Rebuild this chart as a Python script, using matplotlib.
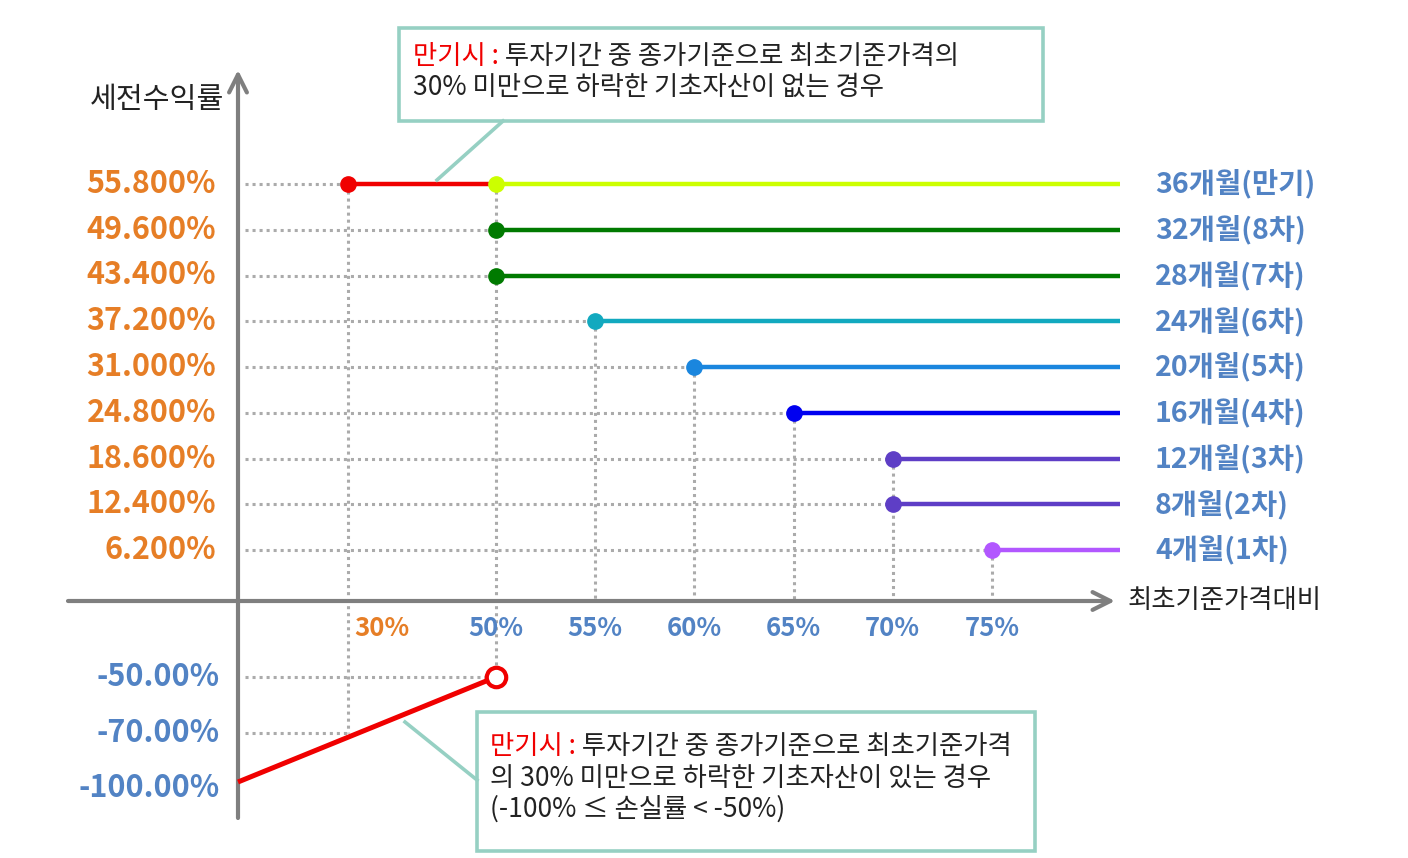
import numpy as np
import matplotlib
matplotlib.use("Agg")
import matplotlib.pyplot as plt
from matplotlib.patches import Rectangle
from matplotlib.lines import Line2D

plt.rcParams["font.family"] = ["Noto Sans CJK KR", "DejaVu Sans"]

W, H = 1408, 858

# ---- podaci ----
levels = [55.8, 49.6, 43.4, 37.2, 31.0, 24.8, 18.6, 12.4, 6.2]
level_labels = ["55.800%", "49.600%", "43.400%", "37.200%", "31.000%",
                "24.800%", "18.600%", "12.400%", "6.200%"]
barriers = [50, 50, 50, 55, 60, 65, 70, 70, 75]
periods = ["36개월(만기)", "32개월(8차)", "28개월(7차)", "24개월(6차)", "20개월(5차)",
           "16개월(4차)", "12개월(3차)", "8개월(2차)", "4개월(1차)"]
line_colors = ["#CCFF00", "#007A00", "#007A00", "#12A9BF", "#1A86DE",
               "#0000F0", "#5E3EC6", "#5E3EC6", "#B257FF"]
knock_in = 30
loss_x = [0, 50]
loss_y = [-100, -50]
loss_ticks = [-50, -70, -100]
loss_labels = ["-50.00%", "-70.00%", "-100.00%"]
x_ticks = [30, 50, 55, 60, 65, 70, 75]
x_labels = ["30%", "50%", "55%", "60%", "65%", "70%", "75%"]

# ---- raspored (nelinearna shema) ----
XK = [-12, 0, 30, 50, 75, 96]
XP = [0, 238, 348, 496, 992, 1408]
YK = [-147, -100, -70, -50, 0, 6.2, 55.8, 80.7]
YP = [0, 76, 125, 181, 257, 308, 674, 858]
LINE_END = 81.45
DOT_START = 2

ORANGE = "#E67E26"
BLUE = "#5283C4"
GRAY = "#7F7F7F"
DOT_GRAY = "#ABABAB"
TEAL = "#96D0C3"
RED = "#F00000"
TXT = "#222222"
NOTE_FS = 19


def fx(v):
    return np.interp(v, XK, XP)


def ix(p):
    return np.interp(p, XP, XK)


def fy(v):
    return np.interp(v, YK, YP)


def iy(p):
    return np.interp(p, YP, YK)


def px2fig(px, py):
    return px / W, 1 - py / H


fig = plt.figure(figsize=(W / 100, H / 100), dpi=100)
ax = fig.add_axes([0, 0, 1, 1])
ax.set_xscale("function", functions=(fx, ix))
ax.set_yscale("function", functions=(fy, iy))
ax.set_xlim(XK[0], XK[-1])
ax.set_ylim(YK[0], YK[-1])
ax.axis("off")

dot_kw = dict(color=DOT_GRAY, lw=2.2, linestyle=(0, (1, 1.3)), zorder=1)

# ---- tockaste vodilice ----
starts = [knock_in] + barriers[1:]
for lv, st in zip(levels, starts):
    ax.plot([DOT_START, st], [lv, lv], **dot_kw)
ax.plot([DOT_START, loss_x[1]], [loss_y[1], loss_y[1]], **dot_kw)
ax.plot([DOT_START, knock_in], [-70, -70], **dot_kw)

ax.plot([knock_in, knock_in], [levels[0], -70], **dot_kw)
for b in sorted(set(barriers)):
    top = max(lv for lv, bb in zip(levels, barriers) if bb == b)
    bottom = loss_y[1] if b == loss_x[1] else 0
    ax.plot([b, b], [top, bottom], **dot_kw)

# ---- osi ----
yt = ax.get_xaxis_transform()
xt = ax.get_yaxis_transform()
ax.annotate("", xy=(0, 1 - 70 / H), xytext=(0, 1 - 818 / H), xycoords=yt,
            textcoords=yt,
            arrowprops=dict(arrowstyle="->", lw=3, color=GRAY, mutation_scale=32,
                            shrinkA=0, shrinkB=0), zorder=2)
ax.annotate("", xy=(1115 / W, 0), xytext=(68 / W, 0), xycoords=xt, textcoords=xt,
            arrowprops=dict(arrowstyle="->", lw=3, color=GRAY, mutation_scale=32,
                            shrinkA=0, shrinkB=0), zorder=2)

# ---- isplate ----
ax.plot([knock_in, barriers[0]], [levels[0], levels[0]], color=RED, lw=3.2,
        solid_capstyle="butt", zorder=3)
ax.plot([knock_in], [levels[0]], "o", color=RED, ms=11, zorder=4)
for lv, b, c in zip(levels, barriers, line_colors):
    ax.plot([b, LINE_END], [lv, lv], color=c, lw=3.2, solid_capstyle="butt", zorder=3)
    ax.plot([b], [lv], "o", color=c, ms=11, zorder=4)

ax.plot(loss_x, loss_y, color=RED, lw=3.6, solid_capstyle="butt", zorder=3)
ax.plot([loss_x[1]], [loss_y[1]], "o", mfc="white", mec=RED, mew=3, ms=14, zorder=4)

# ---- oznake ----
for lv, lab in zip(levels, level_labels):
    ax.text(216 / W, lv, lab, transform=xt, ha="right", va="center",
            color=ORANGE, fontsize=22, fontweight="bold")
for lv, lab in zip(loss_ticks, loss_labels):
    # -100% oznaka u originalu sjedi malo ispod pocetka crte
    dy = -6 if lv == -100 else 0
    ax.annotate(lab, xy=(220 / W, lv), xycoords=xt, xytext=(0, dy),
                textcoords="offset pixels", ha="right", va="center",
                color=BLUE, fontsize=22, fontweight="bold")
for lv, lab in zip(levels, periods):
    ax.text(1155 / W, lv, lab, transform=xt, ha="left", va="center",
            color=BLUE, fontsize=20.5, fontweight="bold")
for xv, lab in zip(x_ticks, x_labels):
    if xv == knock_in:
        ax.annotate(lab, xy=(xv, 1 - 628 / H), xycoords=yt, xytext=(6, 0),
                    textcoords="offset pixels", ha="left", va="center",
                    color=ORANGE, fontsize=18.5, fontweight="bold")
    else:
        ax.text(xv, 1 - 628 / H, lab, transform=yt, ha="center", va="center",
                color=BLUE, fontsize=18.5, fontweight="bold")

fig.text(*px2fig(90, 100), "세전수익률", ha="left", va="center", fontsize=21, color=TXT)
fig.text(*px2fig(1128, 601), "최초기준가격대비", ha="left", va="center", fontsize=19,
         color=TXT)


# ---- okviri s objasnjenjem ----
def box(x0, y0, x1, y1):
    fx0, fy1 = px2fig(x0, y1)
    fig.add_artist(Rectangle((fx0, fy1), (x1 - x0) / W, (y1 - y0) / H,
                             transform=fig.transFigure, fill=False,
                             edgecolor=TEAL, lw=2.6))


def connector(p0, p1):
    a = px2fig(*p0)
    b = px2fig(*p1)
    fig.add_artist(Line2D([a[0], b[0]], [a[1], b[1]], transform=fig.transFigure,
                          color=TEAL, lw=2.6))


def note(px, py, first, rest):
    t = fig.text(*px2fig(px, py), first, ha="left", va="center", fontsize=NOTE_FS,
                 color=RED)
    ax.annotate(" " + rest, xy=(1, 0), xycoords=t, ha="left", va="bottom",
                fontsize=NOTE_FS, color=TXT, annotation_clip=False)


box(399, 28, 1043, 121)
connector((503, 121), (437, 180))
note(413, 56, "만기시 :", "투자기간 중 종가기준으로 최초기준가격의")
fig.text(*px2fig(413, 87), "30% 미만으로 하락한 기초자산이 없는 경우", ha="left",
         va="center", fontsize=NOTE_FS, color=TXT)

box(477, 712, 1035, 851)
connector((405, 722), (477, 780))
note(490, 747, "만기시 :", "투자기간 중 종가기준으로 최초기준가격")
fig.text(*px2fig(490, 778), "의 30% 미만으로 하락한 기초자산이 있는 경우", ha="left",
         va="center", fontsize=NOTE_FS, color=TXT)
fig.text(*px2fig(490, 809), "(-100% ≤ 손실률 < -50%)", ha="left",
         va="center", fontsize=NOTE_FS, color=TXT)

fig.savefig("out.png", dpi=100, facecolor="white")
